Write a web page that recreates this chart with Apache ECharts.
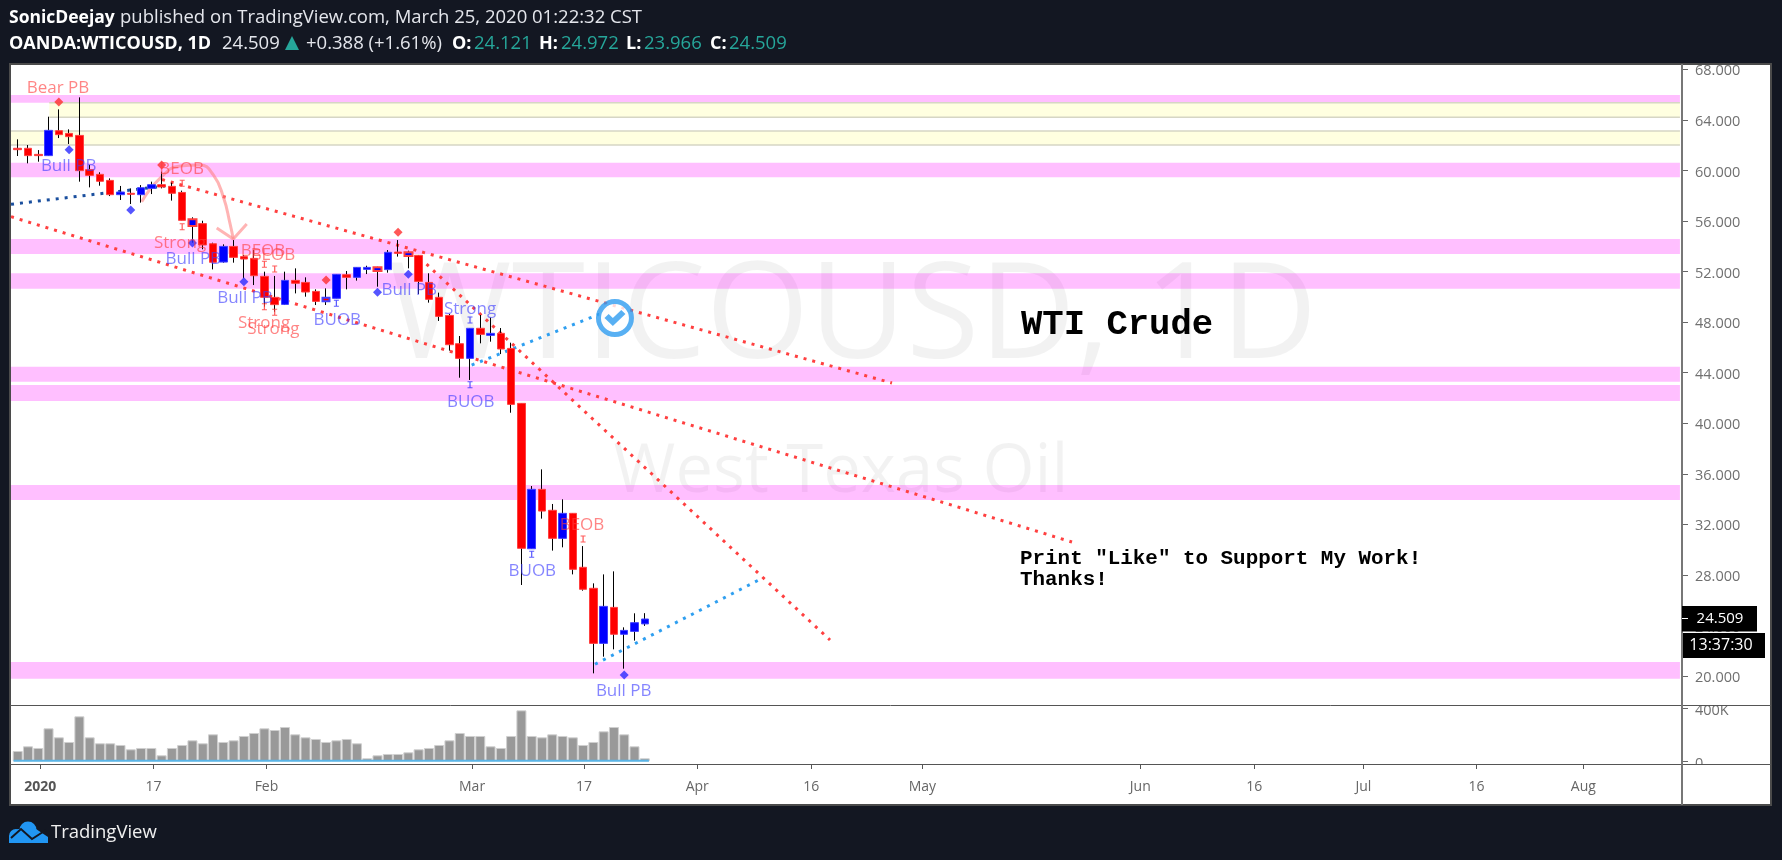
<!DOCTYPE html>
<html>
<head>
<meta charset="utf-8">
<style>html,body{margin:0;padding:0;background:#131722}#c{width:1782px;height:860px}</style>
<script src="https://cdn.jsdelivr.net/npm/echarts@6/dist/echarts.min.js"></script>
</head>
<body>
<div id="c"></div>
<script>
// open, close, low, high per trading day (Dec 30 2019 ... Mar 25 2020)
const ohlc = [
[61.75,61.64,61.14,62.46],[61.75,61.17,60.56,62.01],[61.27,61.17,60.69,61.61],[61.17,63.17,61.14,64.25],
[63.14,62.83,62.56,64.83],[62.93,62.67,62.09,63.25],[62.77,59.98,59.11,65.78],[60.06,59.61,58.66,60.43],
[59.69,59.14,58.79,59.85],[59.21,58.08,57.97,59.37],[58.08,58.29,57.66,58.77],[58.19,58.11,57.34,58.58],
[58.08,58.63,57.45,58.84],[58.58,58.87,58.13,59.11],[58.87,58.69,58.58,59.90],[58.74,58.19,57.61,59.03],
[58.26,56.05,56.05,58.40],[55.60,56.13,54.28,56.29],[55.79,54.10,53.76,56.02],[54.20,52.73,52.17,54.28],
[52.75,53.99,52.70,54.15],[53.99,53.12,52.70,54.49],[53.18,52.99,51.46,53.31],[53.04,51.67,50.93,53.70],
[51.62,49.96,49.22,51.99],[49.96,49.38,48.82,51.65],[49.40,51.30,49.35,51.99],[51.30,51.07,50.27,52.25],
[51.14,50.38,50.01,51.54],[50.43,49.64,49.35,50.59],[49.64,49.93,49.35,50.67],[49.88,51.78,49.88,51.78],
[51.75,51.54,50.59,52.04],[51.54,52.33,51.28,52.33],[52.17,52.33,51.80,52.46],[52.04,52.33,50.80,52.38],
[52.15,53.52,51.91,53.70],[53.54,53.44,53.18,54.49],[53.23,53.52,52.25,53.65],[53.28,51.22,50.22,53.31],
[51.14,49.80,49.54,51.86],[49.96,48.45,48.09,50.33],[48.53,46.21,45.74,48.64],[46.29,45.13,43.60,46.90],
[45.13,47.51,43.42,47.51],[47.51,47.03,46.32,48.56],[46.95,47.11,46.45,48.35],[47.11,45.87,45.47,47.53],
[45.92,41.49,40.83,46.37],[41.57,30.10,27.20,41.57],[30.07,34.77,30.07,35.03],[34.77,33.05,32.45,36.35],
[33.11,30.89,29.92,33.61],[30.89,32.87,30.18,33.98],[32.87,28.44,28.04,32.87],[28.60,26.86,26.75,30.28],
[26.94,22.58,20.21,27.33],[22.58,25.51,21.53,28.04],[25.43,23.30,22.11,28.28],[23.30,23.61,20.58,23.85],
[23.53,24.22,22.80,24.96],[24.121,24.509,23.966,24.972]
];
const volumes = [77500,112500,100000,247500,180000,145000,337500,180000,135000,135000,122500,90000,100000,100000,45000,100000,122500,157500,135000,202500,145000,157500,190000,212500,247500,235000,257500,202500,180000,167500,145000,157500,167500,135000,22500,45000,55000,55000,67500,90000,100000,122500,157500,212500,190000,190000,112500,100000,190000,382500,190000,180000,202500,190000,180000,122500,145000,225000,257500,202500,112500,22500];
const redOutlinedBlue = [17,35,38];
const blueOutlinedRed = [30];

const pinkZones = [[65.36,65.96],[59.46,60.61],[53.39,54.57],[50.64,51.86],[43.28,44.47],[41.76,43.02],[33.92,35.11],[19.79,21.11]];
const yellowZones = [[64.20,65.36,3.07],[62.01,63.12,-0.65]];

const trendUpper = [[14.04,59.28],[85.05,43.18]];
const trendLong = [[-0.65,56.34],[102.56,30.60]];
const trendSteep = [[39.13,53.07],[79.02,22.85]];
const trendNavy = [[-0.65,57.32],[14.33,58.77]];
const trendBlueTop = [[44.16,44.60],[56.64,48.64]];
const trendBlueBottom = [[56.16,20.93],[72.1,27.6]];
const arrowCurve = [[12.06,57.52],[13.84,59.37],[15.79,60.35],[17.73,60.43],[19.03,59.64],[20.0,57.92],[20.65,55.81],[20.97,54.57]];
const arrowHead = [[19.36,55.44],[20.97,54.57],[22.28,55.76]];

const redLabels = [[3.92,66.62,'Bear PB'],[15.95,60.17,'BEOB'],[23.86,53.70,'BEOB'],[24.83,53.39,'BEOB'],[15.79,54.31,'Strong'],[23.96,48.03,'Strong'],[24.86,47.51,'Strong'],[54.89,32.03,'BEOB']];
const blueLabels = [[4.96,60.43,'Bull PB'],[17.08,53.05,'Bull PB'],[22.11,50.01,'Bull PB'],[31.09,48.22,'BUOB'],[38.09,50.59,'Bull PB'],[44.0,49.14,'Strong'],[44.07,41.78,'BUOB'],[50.06,28.39,'BUOB'],[58.95,18.89,'Bull PB']];
const redDiamonds = [[4,65.41],[14,60.43],[30,51.33],[37,55.10]];
const blueDiamonds = [[5,61.64],[11,56.87],[17,54.26],[22,51.19],[35,50.36],[38,51.78],[59,20.08]];
const redTicks = [[16,58.98],[16,55.55],[24,52.57],[25,52.2],[24,49.22],[25,48.77],[55,30.84]];
const blueTicks = [[31,49.49],[44,48.16],[44,43.05],[50,29.63]];
const checkBadge = [[58.1,48.32]];

const priceTicks = [20,24,28,32,36,40,44,48,52,56,60,64,68];
const volumeTicks = [0,400000];
const dateTickPos = [2.2,13.2,24.2,44.2,55.1,66.1,77.2,88,109.2,120.3,130.9,141.9,152.3];
const dateTickLabels = ['2020','17','Feb','Mar','17','Apr','16','May','Jun','16','Jul','16','Aug'];

const lastPrice = '24.509';
const countdown = '13:37:30';
const headerLine1 = [[9,'SonicDeejay',true,'#fff'],[120,'published on TradingView.com, March 25, 2020 01:22:32 CST',false,'#e4e6ec']];
const teal = '#26a69a';
const headerLine2 = [[9,'OANDA:WTICOUSD, 1D',true,'#fff'],[222,'24.509',false,'#e4e6ec'],[306,'+0.388 (+1.61%)',false,'#e4e6ec'],
 [452,'O:',true,'#fff'],[474,'24.121',false,teal],[539,'H:',true,'#fff'],[561,'24.972',false,teal],[626,'L:',true,'#fff'],[644,'23.966',false,teal],[710,'C:',true,'#fff'],[729,'24.509',false,teal]];

const XMIN = -0.652, XMAX = 161.9, XZONE = 161.7;
const FONT = '"Open Sans"';
const RED='#ff0000', REDB='#ff4040', BLUE='#0000ff', BLUEB='#4040ff';

const wickData = ohlc.map((d,i)=>[i,d[0],d[1],d[2],d[3]]);
const bodyData = ohlc.map((d,i)=>{
  const lo=Math.min(d[0],d[1]), hi=Math.max(d[0],d[1]);
  const item={value:[i,d[0],d[1],lo,hi]};
  if(redOutlinedBlue.includes(i)) item.itemStyle={color:BLUE,color0:BLUE,borderColor:REDB,borderColor0:REDB,borderWidth:2};
  if(blueOutlinedRed.includes(i)) item.itemStyle={color:RED,color0:RED,borderColor:BLUEB,borderColor0:BLUEB,borderWidth:2};
  return item;
});

function dotted(data,color,z){return {type:'line',data,xAxisIndex:0,yAxisIndex:0,showSymbol:false,symbol:'none',silent:true,z:z||2,
  lineStyle:{color,width:3,type:[3,6],cap:'butt'}};}
function textSeries(data,color){return {type:'scatter',data,symbolSize:1,itemStyle:{color:'transparent'},z:7,silent:true,
  label:{show:true,position:'inside',offset:[0,1],formatter:p=>p.value[2],color,fontFamily:FONT,fontSize:17}};}
function markSeries(data,symbol,size,color,z){return {type:'scatter',data,symbol,symbolSize:size,itemStyle:{color},z:z||6,silent:true};}
function edge(x0,y){return {type:'line',data:[[x0,y],[XZONE,y]],xAxisIndex:0,yAxisIndex:0,symbol:'none',silent:true,z:1,
  lineStyle:{color:'#d6d6c4',width:1.5}};}

const IBEAM='path://M0,0H4V1H2.5V6H4V7H0V6H1.5V1H0Z';
const CHECK='path://M0,10L4,6L8,10L16,2L20,6L8,18Z';

const graphics = [
 {type:'rect',z:-10,shape:{x:10,y:64,width:1761,height:741},style:{fill:'#fff',stroke:'#4b4b4b',lineWidth:2}},
 {type:'text',z:-5,x:853,y:320,style:{text:'WTICOUSD, 1D',fill:'rgba(0,0,0,0.05)',font:'133px '+FONT,textAlign:'center',textVerticalAlign:'middle'}},
 {type:'text',z:-5,x:841,y:473,style:{text:'West Texas Oil',fill:'rgba(0,0,0,0.05)',font:'67px '+FONT,textAlign:'center',textVerticalAlign:'middle'}},
 {type:'text',z:20,x:1021,y:325,style:{text:'WTI Crude',fill:'#000',font:'bold 35.6px "Liberation Mono"',textVerticalAlign:'middle'}},
 {type:'text',z:20,x:1020,y:559,style:{text:'Print "Like" to Support My Work!',fill:'#000',font:'bold 20.9px "Liberation Mono"',textVerticalAlign:'middle'}},
 {type:'text',z:20,x:1020,y:580,style:{text:'Thanks!',fill:'#000',font:'bold 20.9px "Liberation Mono"',textVerticalAlign:'middle'}},
 // clip of axis labels at the pane edges + pane separators
 {type:'rect',z:30,shape:{x:1690,y:765,width:78,height:10},style:{fill:'#fff'}},
 {type:'line',z:31,shape:{x1:10,y1:705.5,x2:1771,y2:705.5},style:{stroke:'#555',lineWidth:1}},
 {type:'line',z:31,shape:{x1:10,y1:764.5,x2:1771,y2:764.5},style:{stroke:'#555',lineWidth:1}},
 {type:'line',z:31,shape:{x1:1682,y1:64,x2:1682,y2:805},style:{stroke:'#777',lineWidth:2}},
 // last price + countdown
 {type:'rect',z:32,shape:{x:1682,y:606,width:75,height:25.5},style:{fill:'#000'}},
 {type:'line',z:33,shape:{x1:1682,y1:618.5,x2:1688,y2:618.5},style:{stroke:'#fff',lineWidth:1}},
 {type:'text',z:33,x:1720,y:619,style:{text:lastPrice,fill:'#fff',font:'15px '+FONT,textAlign:'center',textVerticalAlign:'middle'}},
 {type:'rect',z:32,shape:{x:1683,y:633,width:82,height:25},style:{fill:'#000'}},
 {type:'text',z:33,x:1721,y:645.5,style:{text:countdown,fill:'#fff',font:'16px '+FONT,textAlign:'center',textVerticalAlign:'middle'}},
 // header triangle
 {type:'polygon',z:10,shape:{points:[[285,50],[299,50],[292,36]]},style:{fill:teal}},
 // footer logo: cloud made of circles and a base, with a chart line across it
 {type:'circle',z:10,shape:{cx:28,cy:830,r:8.5},style:{fill:'#2196f3'}},
 {type:'circle',z:10,shape:{cx:16,cy:836,r:7},style:{fill:'#2196f3'}},
 {type:'polygon',z:10,shape:{points:[[9,843],[9,836],[18,829],[36,829],[48,837],[48,843]]},style:{fill:'#2196f3'}},
 {type:'polyline',z:11,shape:{points:[[11,838],[21,829],[32,839],[46,830]]},style:{stroke:'#131722',lineWidth:2,fill:null}},
 {type:'text',z:10,x:51,y:833,style:{text:'TradingView',fill:'#f0f0f0',font:'18.5px '+FONT,textVerticalAlign:'middle'}}
];
headerLine1.forEach(h=>graphics.push({type:'text',z:10,x:h[0],y:18,style:{text:h[1],fill:h[3],font:(h[2]?'bold 17.5px ':'18.5px ')+FONT,textVerticalAlign:'middle'}}));
headerLine2.forEach(h=>graphics.push({type:'text',z:10,x:h[0],y:44,style:{text:h[1],fill:h[3],font:(h[2]?'bold 18px ':'18.5px ')+FONT,textVerticalAlign:'middle'}}));

const zoneAreas = pinkZones.map(z=>[{xAxis:XMIN,yAxis:z[0]},{xAxis:XZONE,yAxis:z[1]}]);
const yellowAreas = yellowZones.map(z=>[{xAxis:z[2],yAxis:z[0]},{xAxis:XZONE,yAxis:z[1]}]);
const yellowEdges = yellowZones.flatMap(z=>[edge(z[2],z[0]),edge(z[2],z[1])]);

const option = {
  backgroundColor:'#131722',
  animation:false,
  graphic:graphics,
  grid:[
    {left:11,right:100,top:65,height:640},
    {left:11,right:100,top:705,height:59}
  ],
  xAxis:[
    {type:'value',gridIndex:0,min:XMIN,max:XMAX,show:false,splitLine:{show:false}},
    {type:'value',gridIndex:1,min:XMIN,max:XMAX,position:'bottom',splitLine:{show:false},
     axisLine:{show:true,onZero:false,lineStyle:{color:'#555',width:1}},
     axisTick:{show:true,length:5,lineStyle:{color:'#555'},customValues:dateTickPos},
     axisLabel:{show:true,customValues:dateTickPos,margin:16,color:'#666',fontFamily:FONT,fontSize:14,hideOverlap:false,
       formatter:(v)=>{const k=dateTickPos.indexOf(v);const t=dateTickLabels[k];return t==='2020'?'{b|2020}':(t||'');},
       rich:{b:{color:'#555',fontWeight:'bold',fontFamily:FONT,fontSize:14}}}}
  ],
  yAxis:[
    {type:'value',gridIndex:0,position:'right',min:17.706,max:68.34,scale:true,splitLine:{show:false},
     axisLine:{show:true,onZero:false,lineStyle:{color:'#777',width:2}},
     axisTick:{show:true,length:6,lineStyle:{color:'#666'},customValues:priceTicks},
     axisLabel:{customValues:priceTicks,margin:13,color:'#707070',fontFamily:FONT,fontSize:14.5,verticalAlign:'top',lineHeight:4,formatter:v=>v.toFixed(3)}},
    {type:'value',gridIndex:1,position:'right',min:-20260,max:422500,splitLine:{show:false},
     axisLine:{show:true,onZero:false,lineStyle:{color:'#777',width:2}},
     axisTick:{show:true,length:6,lineStyle:{color:'#666'},customValues:volumeTicks},
     axisLabel:{customValues:volumeTicks,margin:13,color:'#707070',fontFamily:FONT,fontSize:14.5,verticalAlign:'top',lineHeight:5,formatter:v=>v===0?'0':(v/1000)+'K'}}
  ],
  series:[
    {type:'line',data:[],xAxisIndex:0,yAxisIndex:0,z:1,silent:true,
     markArea:{silent:true,z:1,itemStyle:{color:'rgba(255,0,255,0.25)'},data:zoneAreas}},
    {type:'line',data:[],xAxisIndex:0,yAxisIndex:0,z:1,silent:true,
     markArea:{silent:true,z:1,itemStyle:{color:'#ffffe0'},data:yellowAreas}},
    ...yellowEdges,
    dotted(trendUpper,'#ff4040'),dotted(trendLong,'#ff4040'),dotted(trendSteep,'#ff4040'),
    dotted(trendNavy,'#1a4f9e'),dotted(trendBlueTop,'#2f9ff0'),dotted(trendBlueBottom,'#2f9ff0'),
    {type:'line',data:arrowCurve,smooth:0.5,symbol:'none',z:3,silent:true,lineStyle:{color:'rgba(255,130,130,0.6)',width:3}},
    {type:'line',data:arrowHead,symbol:'none',z:3,silent:true,lineStyle:{color:'rgba(255,130,130,0.6)',width:3}},
    {type:'candlestick',name:'wick',data:wickData,barWidth:1,z:4,silent:true,xAxisIndex:0,yAxisIndex:0,
     encode:{x:0,y:[1,2,3,4]},
     itemStyle:{color:'#000',color0:'#000',borderColor:'#000',borderColor0:'#000',borderColorDoji:'#000',borderWidth:1}},
    {type:'candlestick',name:'WTICOUSD',data:bodyData,barWidth:8,z:5,silent:true,xAxisIndex:0,yAxisIndex:0,
     encode:{x:0,y:[1,2,3,4]},
     itemStyle:{color:BLUE,color0:RED,borderColor:BLUEB,borderColor0:REDB,borderColorDoji:REDB,borderWidth:1}},
    markSeries(redDiamonds,'diamond',9,'#ff2d2d'),markSeries(blueDiamonds,'diamond',9,'#2a2aff'),
    markSeries(redTicks,IBEAM,[5,7],'#ff3333'),markSeries(blueTicks,IBEAM,[5,7],'#3333ff'),
    {type:'scatter',data:checkBadge,symbol:'circle',symbolSize:33,z:8,silent:true,itemStyle:{color:'#fff',borderColor:'#2e9cf0',borderWidth:5}},
    {type:'scatter',data:checkBadge,symbol:CHECK,symbolSize:[21,16],z:9,silent:true,itemStyle:{color:'#2e9cf0'}},
    textSeries(redLabels,'rgba(255,60,60,0.78)'),textSeries(blueLabels,'rgba(60,60,255,0.78)'),
    {type:'bar',data:volumes.map((v,i)=>[i,v]),xAxisIndex:1,yAxisIndex:1,barWidth:10,silent:true,z:2,
     itemStyle:{color:'#999',borderColor:'#cfcfcf',borderWidth:1}},
    {type:'line',data:[[-0.4,4000],[61.4,4000]],xAxisIndex:1,yAxisIndex:1,symbol:'none',silent:true,z:3,
     lineStyle:{color:'#5ab4e6',width:2}}
  ]
};
echarts.init(document.getElementById('c'),null,{renderer:'canvas'}).setOption(option);
</script>
</body>
</html>
